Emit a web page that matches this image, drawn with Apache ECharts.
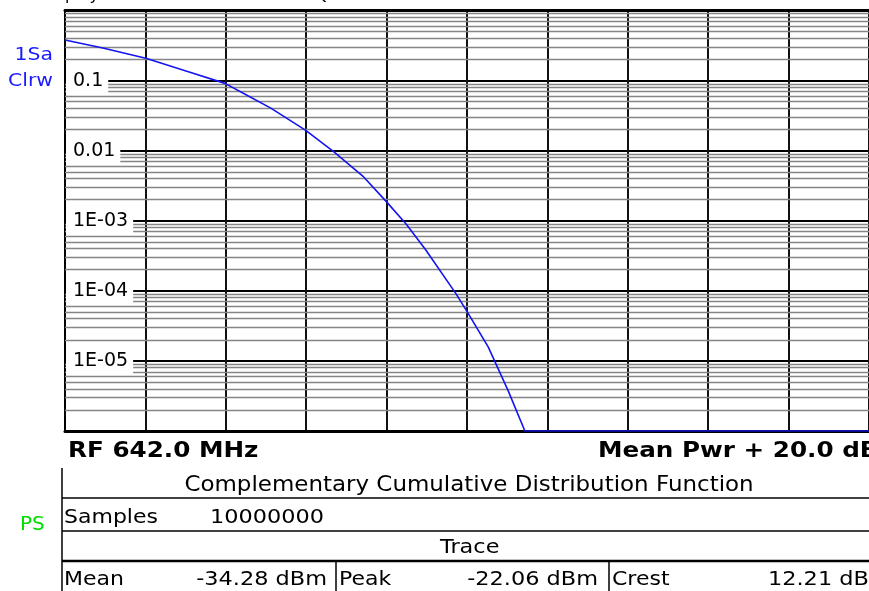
<!DOCTYPE html>
<html>
<head>
<meta charset="utf-8">
<script src="https://cdn.jsdelivr.net/npm/echarts@6/dist/echarts.min.js"></script>
<style>
html,body{margin:0;padding:0;background:#fff;}
#chart{width:869px;height:591px;}
</style>
</head>
<body>
<div id="chart"></div>
<script>
// Power above mean (dB) and CCDF probability
var powerDb = [0.00, 0.94, 2.01, 2.99, 3.98, 4.55, 5.12, 5.98, 6.69, 7.43, 8.00, 8.49, 8.98, 9.72, 10.01, 10.53, 11.02, 11.44, 20.00];
var ccdf    = [0.379, 0.291, 0.208, 0.138, 0.0912, 0.0607, 0.0405, 0.0196, 0.00962, 0.00422, 0.00186, 0.00089, 0.000379, 0.000092, 0.0000498, 0.0000157, 0.0000038, 0.0000010, 0.0000010];
var decadeLabels = {'-1':'0.1','-2':'0.01','-3':'1E-03','-4':'1E-04','-5':'1E-05'};
var xMin = 0, xMax = 20, xStep = 2;
var yMin = 1e-6, yMax = 1;

var curve = powerDb.map(function(x,i){return [x, ccdf[i]];});

// minor log gridlines (2..9 per decade)
var minorLines = [];
for (var e = -6; e <= -1; e++) {
  for (var m = 2; m <= 9; m++) {
    var v = m * Math.pow(10, e);
    minorLines.push({coords: [[xMin, v], [xMax, v]]});
  }
}

var FONT = '"DejaVu Sans", Verdana, sans-serif';
function txt(t, x, y, size, opts) {
  opts = opts || {};
  return {
    type: 'text', z: 100, x: x, y: y, scaleX: opts.sx || 1, scaleY: 1,
    style: {
      text: t, x: 0, y: 0,
      font: (opts.bold ? 'bold ' : '') + size + 'px ' + FONT,
      fill: opts.color || '#000',
      textAlign: opts.align || 'left',
      textVerticalAlign: opts.valign || 'middle',
      verticalAlign: opts.valign || 'middle'
    }
  };
}
function ln(x1, y1, x2, y2, w, c) {
  return {type: 'line', z: 100, shape: {x1: x1, y1: y1, x2: x2, y2: y2},
          style: {stroke: c || '#000', lineWidth: w || 1.5}};
}

var chart = echarts.init(document.getElementById('chart'), null, {renderer: 'canvas'});
chart.setOption({
  animation: false,
  backgroundColor: '#fff',
  grid: {left: 65, top: 10.5, width: 813, height: 420.5, show: true, borderColor: '#000', borderWidth: 2, backgroundColor: 'transparent'},
  xAxis: [{
    type: 'value', min: xMin, max: xMax, interval: xStep,
    axisLine: {show: true, onZero: false, lineStyle: {color: '#000', width: 3}},
    axisTick: {show: false}, axisLabel: {show: false},
    splitLine: {show: true, lineStyle: {color: '#111', width: 2}}
  }, {
    type: 'value', min: xMin, max: xMax, position: 'top',
    axisLine: {show: true, onZero: false, lineStyle: {color: '#000', width: 3}},
    axisTick: {show: false}, axisLabel: {show: false}, splitLine: {show: false}
  }],
  yAxis: [{
    type: 'log', logBase: 10, min: yMin, max: yMax, splitNumber: 6,
    axisLine: {show: true, lineStyle: {color: '#000', width: 2}},
    axisTick: {show: false}, axisLabel: {show: false},
    splitLine: {show: true, lineStyle: {color: '#000', width: 2}}
  }, {
    type: 'log', logBase: 10, min: yMin, max: yMax, splitNumber: 6, position: 'left', z: 10,
    axisLine: {show: false}, axisTick: {show: false}, splitLine: {show: false},
    axisLabel: {
      show: true, inside: true, margin: 1,
      showMinLabel: false, showMaxLabel: false,
      color: '#000', fontFamily: FONT, fontSize: 19,
      backgroundColor: '#fff', padding: [4, 5, 4, 7],
      formatter: function (v) {
        var e = Math.round(Math.log10(v));
        return decadeLabels[String(e)] || '';
      }
    }
  }],
  series: [{
    type: 'lines', coordinateSystem: 'cartesian2d', z: 1, silent: true,
    polyline: false, symbol: 'none',
    lineStyle: {color: '#858585', width: 1.3, opacity: 1, curveness: 0},
    data: minorLines
  }, {
    type: 'line', z: 5, data: curve, symbol: 'none', clip: true,
    smooth: false,
    lineStyle: {color: '#1414f0', width: 1.6}
  }],
  graphic: [
    txt('Display', 40, 4, 16, {valign: 'bottom'}),
    txt('AQT 0.0000', 302, 4, 16, {valign: 'bottom', sx: 1.15}),
    txt('1Sa', 53, 56, 17, {color: '#1a1aff', align: 'right', sx: 1.2}),
    txt('Clrw', 53, 82, 17, {color: '#1a1aff', align: 'right', sx: 1.2}),
    txt('PS', 20, 525, 20, {color: '#00dd00'}),
    txt('RF 642.0 MHz', 68, 451, 22, {bold: true, sx: 1.12}),
    txt('Mean Pwr + 20.0 dB', 598, 451, 22, {bold: true, sx: 1.12}),
    txt('Complementary Cumulative Distribution Function', 469, 486, 20.5, {align: 'center', sx: 1.12}),
    txt('Samples', 64, 518, 20, {sx: 1.1}),
    txt('10000000', 210, 518, 20, {sx: 1.12}),
    txt('Trace', 440, 548, 20, {sx: 1.12}),
    txt('Mean', 64, 580, 20, {sx: 1.1}),
    txt('-34.28 dBm', 327, 580, 20, {align: 'right', sx: 1.12}),
    txt('Peak', 339, 580, 20, {sx: 1.1}),
    txt('-22.06 dBm', 598, 580, 20, {align: 'right', sx: 1.12}),
    txt('Crest', 612, 580, 20, {sx: 1.1}),
    txt('12.21 dB', 768, 580, 20, {sx: 1.12}),
    ln(62, 468, 62, 591, 1.5),
    ln(62, 498, 869, 498, 1.5),
    ln(62, 531, 869, 531, 1.5),
    ln(62, 561, 869, 561, 2.5),
    ln(336, 562, 336, 591, 1.5),
    ln(609, 562, 609, 591, 1.5)
  ]
});
</script>
</body>
</html>
